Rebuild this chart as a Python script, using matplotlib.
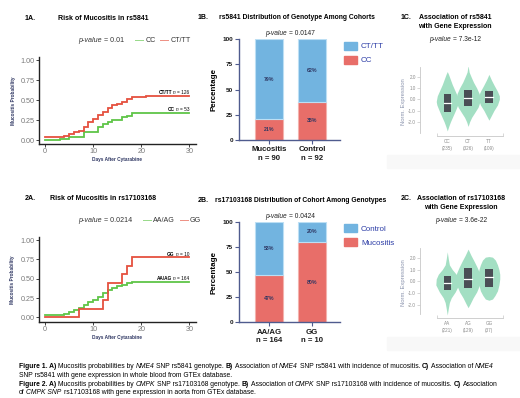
import numpy as np
import matplotlib
matplotlib.use("Agg")
import matplotlib.pyplot as plt
from matplotlib.patches import Rectangle

plt.rcParams["font.family"] = ["Liberation Sans", "DejaVu Sans"]

W, H, DPI = 520, 398, 100

# ---- 1A / 2A: cumulative mucositis probability (step curves)
km1_days_ctt = [0, 4, 5, 6, 7, 8, 9, 10, 11, 12, 13, 14, 15, 16, 17, 18, 21, 30]
km1_prob_ctt = [0.04, 0.06, 0.08, 0.10, 0.12, 0.17, 0.23, 0.27, 0.32, 0.35, 0.40,
                0.44, 0.46, 0.48, 0.51, 0.54, 0.55, 0.55]
km1_days_cc = [0, 3, 5, 8, 11, 12, 13, 14, 16, 17, 18, 30]
km1_prob_cc = [0.0, 0.02, 0.04, 0.11, 0.17, 0.20, 0.23, 0.26, 0.29, 0.31, 0.34, 0.34]

km2_days_aa = [0, 4, 5, 6, 7, 8, 9, 10, 11, 12, 13, 14, 15, 16, 17, 18, 30]
km2_prob_aa = [0.03, 0.05, 0.07, 0.09, 0.12, 0.16, 0.20, 0.23, 0.27, 0.31, 0.35,
               0.38, 0.40, 0.42, 0.44, 0.46, 0.46]
km2_days_gg = [0, 7, 12, 13, 16, 17, 18, 30]
km2_prob_gg = [0.0, 0.11, 0.22, 0.44, 0.56, 0.67, 0.78, 0.78]

# ---- 1B / 2B: stacked percentages
b1_groups = ["Mucositis\nn = 90", "Control\nn = 92"]
b1_cc = [21, 38]
b1_cttt = [79, 62]
b2_groups = ["AA/AG\nn = 164", "GG\nn = 10"]
b2_muc = [47, 80]
b2_ctrl = [53, 20]

# ---- 1C / 2C: violin outlines (y, half-width in category units) + box stats
v1_labels = ["CC\n(235)", "CT\n(326)", "TT\n(109)"]
v1_y = [[-2.8, -2.4, -2.0, -1.5, -1.0, -0.5, -0.2, 0.3, 0.8, 1.3, 1.8, 2.2, 2.45],
        [-2.4, -2.0, -1.6, -1.2, -0.7, -0.2, 0.1, 0.5, 1.0, 1.5, 2.0, 2.4, 2.97],
        [-1.85, -1.5, -1.0, -0.5, 0.0, 0.3, 0.7, 1.2, 1.7, 2.2]]
v1_w = [[0, 0.07, 0.15, 0.27, 0.39, 0.50, 0.53, 0.48, 0.36, 0.24, 0.14, 0.06, 0],
        [0, 0.07, 0.17, 0.31, 0.48, 0.57, 0.57, 0.53, 0.41, 0.26, 0.14, 0.05, 0],
        [0, 0.10, 0.24, 0.41, 0.50, 0.50, 0.41, 0.26, 0.12, 0]]
v1_q1 = [-1.1, -0.57, -0.3]
v1_med = [-0.3, 0.14, 0.23]
v1_q3 = [0.5, 0.82, 0.73]

v2_labels = ["AA\n(221)", "AG\n(129)", "GG\n(37)"]
v2_y = [[-2.85, -2.3, -1.8, -1.4, -0.9, -0.3, 0.2, 0.6, 1.0, 1.4, 1.9, 2.5],
        [-2.23, -1.9, -1.4, -0.9, -0.3, 0.2, 0.7, 1.2, 1.7, 2.2, 2.73],
        [-1.6, -1.5, -1.2, -0.8, -0.3, 0.2, 0.6, 1.0, 1.4, 1.8, 2.05, 2.1]]
v2_w = [[0, 0.05, 0.10, 0.19, 0.38, 0.55, 0.53, 0.43, 0.24, 0.10, 0.05, 0],
        [0, 0.10, 0.24, 0.41, 0.55, 0.60, 0.55, 0.43, 0.29, 0.14, 0],
        [0, 0.17, 0.29, 0.41, 0.48, 0.52, 0.52, 0.48, 0.41, 0.31, 0.17, 0]]
v2_q1 = [-0.74, -0.59, -0.45]
v2_med = [-0.17, 0.19, 0.39]
v2_q3 = [0.47, 1.1, 1.04]

RED = "#e5513f"
GREEN = "#5fc548"
NAVY = "#2d3561"
BAR_BLUE = "#72b4e0"
BAR_RED = "#e86e69"
LEG_BLUE = "#2b3ca6"
AX_BLUE = "#4f5b8e"
MINT = "#a3dfc3"
BOX = "#4a4e55"

fig = plt.figure(figsize=(W / DPI, H / DPI), dpi=DPI)
R = fig.canvas.get_renderer()


def axes_px(x0, y0, x1, y1):
    return fig.add_axes([x0 / W, 1 - y1 / H, (x1 - x0) / W, (y1 - y0) / H])


def rich(x, y, parts, size, ha="left", color="black"):
    """Mixed-style text pieces side by side; x, y in pixels from top-left.
    A number in place of a piece is an extra gap in pixels."""
    sp = size * 0.278 * DPI / 72
    items = []
    for p in parts:
        if isinstance(p, (int, float)):
            items.append((None, p))
            continue
        s, st = p
        kw = dict(fontsize=size, color=color)
        kw.update(st)
        t = fig.text(0, 1 - y / H, s, va="center_baseline", **kw)
        items.append((t, t.get_window_extent(renderer=R).width + sp))
    total = sum(w for _, w in items) - sp
    cur = x - total / 2 if ha == "center" else (x - total if ha == "right" else x)
    for t, w in items:
        if t is not None:
            t.set_x(cur / W)
        cur += w


B = {"fontweight": "bold"}
I = {"fontstyle": "italic"}
N = {}


def km_panel(y0, y1, yb, xl, series, notes, tag, title, pval, legend):
    ax = axes_px(39, y0, 196, y1)
    for d, p, c in series:
        ax.step(d, p, where="post", color=c, lw=1.3, solid_joinstyle="miter")
    ax.set_xlim(-1.3, 31.4)
    ax.set_ylim(yb, 1.04)
    ax.set_xticks([0, 10, 20, 30])
    ax.set_yticks([0, 0.25, 0.5, 0.75, 1.0])
    ax.set_yticklabels(["0.00", "0.25", "0.50", "0.75", "1.00"])
    for s in ["top", "right"]:
        ax.spines[s].set_visible(False)
    for s in ["left", "bottom"]:
        ax.spines[s].set_linewidth(1.0)
        ax.spines[s].set_color("#222222")
    ax.tick_params(length=2, width=0.6, pad=1.2, labelsize=5.2, labelcolor="#7a7a7a",
                   color="#222222")
    for (lab, n, yv) in notes:
        d = ax.transData.transform((30, yv))
        rich(d[0], H - d[1], [(lab, B), ("n", I), ("= " + n, N)], 3.4, ha="right")
    rich(25, y0 - 40, [(tag, B)], 5.1)
    rich(103.5, y0 - 40, [(title, B)], 5.0, ha="center")
    parts = [("p-value", I), ("= " + pval, N), 9]
    for lab, c in legend:
        parts += [("\u2014", {"color": c, "fontsize": 6.5}), -0.5, (lab, N), 2.5]
    rich(78, y0 - 17, parts, 5.1, color="#333333")
    fig.text(xl / W, 1 - ((y0 + y1) / 2) / H, "Mucositis Probability", rotation=90,
             ha="center", va="center", fontsize=3.4, fontweight="bold", color=NAVY)
    fig.text(117.5 / W, 1 - (y1 + 16) / H, "Days After Cytarabine", ha="center",
             va="center", fontsize=3.4, fontweight="bold", color=NAVY)
    return ax


km_panel(57, 144, -0.045,
         14, [(km1_days_cc, km1_prob_cc, GREEN), (km1_days_ctt, km1_prob_ctt, RED)],
         [("CT/TT", "126", 0.60), ("CC", "53", 0.39)],
         "1A.", "Risk of Mucositis in rs5841", "0.01",
         [("CC", GREEN), ("CT/TT", RED)])
km_panel(237, 322, -0.06,
         13, [(km2_days_aa, km2_prob_aa, GREEN), (km2_days_gg, km2_prob_gg, RED)],
         [("GG", "10", 0.82), ("AA/AG", "164", 0.51)],
         "2A.", "Risk of Mucositis in rs17103168", "0.0214",
         [("AA/AG", GREEN), ("GG", RED)])


def bar_panel(y0, y1, groups, low, high, low_c, high_c, tag, title, tx, pval, legend):
    ax = axes_px(239.3, y0, 340, y1)
    x = np.arange(len(groups))
    ax.bar(x, low, width=0.65, color=low_c[0], edgecolor=low_c[1], lw=0.8)
    ax.bar(x, high, bottom=low, width=0.65, color=high_c[0], edgecolor=high_c[1], lw=0.8)
    for xi, lo, hi in zip(x, low, high):
        ax.text(xi, lo / 2, f"{lo}%", ha="center", va="center", fontsize=3.8,
                fontweight="bold", color=NAVY)
        ax.text(xi, lo + hi / 2, f"{hi}%", ha="center", va="center", fontsize=3.8,
                fontweight="bold", color=NAVY)
    ax.set_xlim(-0.69, 1.65)
    ax.set_ylim(0, 100)
    ax.set_yticks([0, 25, 50, 75, 100])
    ax.set_xticks(x)
    ax.set_xticklabels(groups, fontsize=5.6, fontweight="bold", linespacing=1.35)
    for s in ["top", "right"]:
        ax.spines[s].set_visible(False)
    for s in ["left", "bottom"]:
        ax.spines[s].set_linewidth(1.0)
        ax.spines[s].set_color(AX_BLUE)
    ax.tick_params(length=3, width=0.8, color=AX_BLUE, pad=1.5, labelcolor="#1a1a1a")
    ax.tick_params(axis="y", labelsize=4.6)
    for lab in ax.get_yticklabels():
        lab.set_fontweight("bold")
    fig.text(214 / W, 1 - ((y0 + y1) / 2) / H, "Percentage", rotation=90, ha="center",
             va="center", fontsize=5.8, fontweight="bold")
    rich(198, y0 - 22.5, [(tag, B)], 5.0)
    rich(tx, y0 - 22.5, [(title, B)], 4.9)
    rich(290, y0 - 6.5, [("p-value", I), ("= " + pval, N)], 4.8, ha="center",
         color="#222222")
    for k, (lab, c) in enumerate(legend):
        yc = y0 + 6.5 + 14 * k
        fig.patches.append(Rectangle((344 / W, 1 - (yc + 4) / H), 13 / W, 8 / H,
                                     transform=fig.transFigure, color=c))
        rich(361, yc, [(lab, N)], 5.8, color=LEG_BLUE)
    return ax


bar_panel(39.3, 140, b1_groups, b1_cc, b1_cttt, (BAR_RED, "#f3b2ad"),
          (BAR_BLUE, "#bcdff4"), "1B.", "rs5841 Distribution of Genotype Among Cohorts",
          219, "0.0147", [("CT/TT", BAR_BLUE), ("CC", BAR_RED)])
bar_panel(221.7, 322.3, b2_groups, b2_muc, b2_ctrl, (BAR_RED, "#f3b2ad"),
          (BAR_BLUE, "#bcdff4"), "2B.", "rs17103168 Distribution of Cohort Among Genotypes",
          215, "0.0424", [("Control", BAR_BLUE), ("Mucositis", BAR_RED)])


def violin_panel(y0, y1, ylo, yhi, labels, vy, vw, q1, med, q3, tag, line1, cx, pval):
    fig.patches.append(Rectangle((387 / W, 1 - (y1 + 32) / H), 133 / W, 13 / H,
                                 transform=fig.transFigure, color="#f8f8f8", zorder=0))
    ax = axes_px(420, y0, 503.3, y1)
    ax.patch.set_alpha(0)
    for i in range(len(labels)):
        yy = np.array(vy[i])
        ww = np.array(vw[i])
        ax.fill_betweenx(yy, i - ww, i + ww, color=MINT, lw=0)
        ax.add_patch(Rectangle((i - 0.18, q1[i]), 0.36, q3[i] - q1[i], color=BOX, lw=0))
        ax.plot([i - 0.18, i + 0.18], [med[i], med[i]], color="white", lw=0.9)
    ax.set_xlim(-1.31, 2.69)
    ax.set_ylim(ylo, yhi)
    ax.set_yticks([-2, -1, 0, 1, 2])
    ax.set_yticklabels(["-2.0", "-1.0", "0.0", "1.0", "2.0"])
    ax.set_xticks(range(len(labels)))
    ax.set_xticklabels(labels, linespacing=1.5)
    ax.set_xticks([-0.51, 2.69], minor=True)
    for s in ["top", "right"]:
        ax.spines[s].set_visible(False)
    ax.spines["left"].set_bounds(ylo + 0.3, yhi)
    ax.spines["bottom"].set_bounds(-0.51, 2.69)
    for s in ["left", "bottom"]:
        ax.spines[s].set_linewidth(0.6)
        ax.spines[s].set_color("#c8c8c8")
    ax.tick_params(axis="y", length=2, width=0.5, color="#c8c8c8", labelsize=3.3,
                   labelcolor="#8a8a8a", pad=1)
    ax.tick_params(axis="x", which="major", length=0, labelsize=3.3,
                   labelcolor="#8a8a8a", pad=2.5)
    ax.tick_params(axis="x", which="minor", direction="in", length=2.5, width=0.5,
                   color="#c8c8c8")
    fig.text(403.3 / W, 1 - ((y0 + y1) / 2) / H, "Norm. Expression", rotation=90,
             ha="center", va="center", fontsize=4.2, color="#8a93ad")
    rich(400.7, y0 - 50.5, [(tag, B)], 5.0)
    rich(cx, y0 - 50.5, [(line1, B)], 5.0, ha="center")
    rich(cx, y0 - 41.5, [("with Gene Expression", B)], 5.0, ha="center")
    rich(cx, y0 - 28.5, [("p-value", I), ("= " + pval, N)], 4.8, ha="center",
         color="#222222")
    return ax


violin_panel(66.7, 136, -3.25, 2.88, v1_labels, v1_y, v1_w, v1_q1, v1_med, v1_q3,
             "1C.", "Association of rs5841", 455, "7.3e-12")
violin_panel(248.3, 317.7, -3.08, 2.8, v2_labels, v2_y, v2_w, v2_q1, v2_med, v2_q3,
             "2C.", "Association of rs17103168", 461, "3.6e-22")

# ---- caption
cap = [
    [("Figure 1. A)", B), ("Mucositis probabilities by", N), ("NME4", I),
     ("SNP rs5841 genotype.", N), ("B)", B), ("Association of", N), ("NME4", I),
     ("SNP rs5841 with incidence of mucositis.", N), ("C)", B), ("Association of", N),
     ("NME4", I)],
    [("SNP rs5841 with gene expression in whole blood from GTEx database.", N)],
    [("Figure 2. A)", B), ("Mucositis probabilities by", N), ("CMPK", I),
     ("SNP rs17103168 genotype.", N), ("B)", B), ("Association of", N), ("CMPK", I),
     ("SNP rs17103168 with incidence of mucositis.", N), ("C)", B), ("Association", N)],
    [("of", N), ("CMPK SNP", I), ("rs17103168 with gene expression in aorta from GTEx database.", N)],
]
for k, line in enumerate(cap):
    rich(19, 366 + 8.5 * k, line, 4.85)

fig.savefig("out.png", dpi=DPI)
